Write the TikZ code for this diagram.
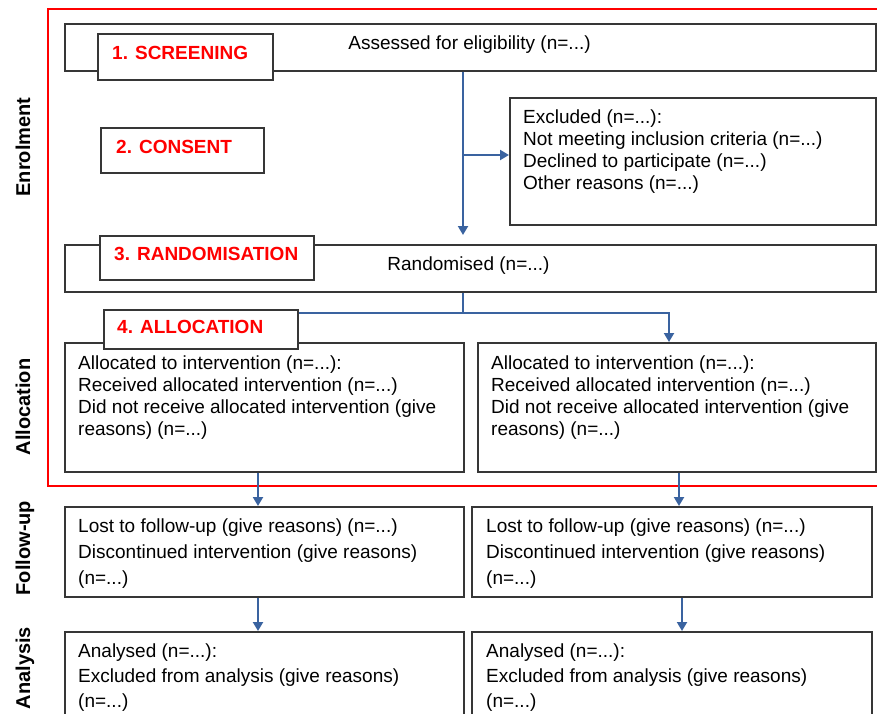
\documentclass[tikz,border=0pt]{standalone}
\usepackage{fontspec}
\setmainfont{Liberation Sans}
\usetikzlibrary{arrows.meta,calc}
\definecolor{boxgray}{HTML}{363636}
\definecolor{flowblue}{HTML}{3A63A0}
\definecolor{redline}{HTML}{FF0000}
\tikzset{
  box/.style={draw=boxgray, line width=1.6pt, fill=white, rectangle, inner sep=0pt, anchor=north west},
  txt/.style={inner sep=0pt, anchor=base west, align=left, text=black, font=\fontsize{19}{22}\selectfont},
  ctxt/.style={inner sep=0pt, anchor=base, text=black, font=\fontsize{19}{22}\selectfont},
  redlabel/.style={inner sep=0pt, anchor=base west, text=redline, font=\fontsize{19}{22}\selectfont\bfseries},
  sidelabel/.style={inner sep=0pt, anchor=base, rotate=90, text=black, font=\fontsize{20}{24}\selectfont\bfseries},
  flow/.style={draw=flowblue, line width=2pt},
  flowarrow/.style={flow, -{Triangle[length=9pt,width=10pt]}},
}
\begin{document}
\begin{tikzpicture}[x=1pt,y=-1pt]
\useasboundingbox (0,0) rectangle (877,713);
\clip (0,0) rectangle (877,713);
\fill[white] (0,0) rectangle (877,713);

% red frame
\draw[redline, line width=2pt] (48,9) rectangle (900,486);

% side labels
\node[sidelabel] (lenrol) at (30,147) {Enrolment};
\node[sidelabel] (lalloc) at (30,407) {Allocation};
\node[sidelabel] (lfollow) at (30,548) {Follow-up};
\node[sidelabel] (lanal) at (30,668) {Analysis};

% main boxes
\node[box, minimum width=811pt, minimum height=47pt] (assess) at (64,23) {};
\node[box, minimum width=366pt, minimum height=127pt] (excl) at (509,97) {};
\node[box, minimum width=811pt, minimum height=47pt] (rand) at (64,244) {};
\node[box, minimum width=399pt, minimum height=129pt] (allocL) at (64,342) {};
\node[box, minimum width=398pt, minimum height=129pt] (allocR) at (477,342) {};
\node[box, minimum width=399pt, minimum height=90pt] (fuL) at (64,506) {};
\node[box, minimum width=400pt, minimum height=90pt] (fuR) at (471,506) {};
\node[box, minimum width=399pt, minimum height=110pt] (anL) at (64,631) {};
\node[box, minimum width=400pt, minimum height=110pt] (anR) at (471,631) {};

% stage label boxes
\node[box, minimum width=175pt, minimum height=46pt] (screen) at (97,33) {};
\node[box, minimum width=163pt, minimum height=45pt] (consent) at (100,127) {};
\node[box, minimum width=214pt, minimum height=44pt] (randlab) at (99,235) {};
\node[box, minimum width=194pt, minimum height=39pt] (alloclab) at (103,309) {};

% texts (multi-line nodes anchored at the baseline of their last line)
\node[ctxt] (tassess) at (469.5,49) {Assessed for eligibility (n=...)};
\node[redlabel] (tscreen) at (112,59) {1. SCREENING};
\node[redlabel] (tconsent) at (116,153) {2. CONSENT};
\node[txt] (texcl) at (523,189) {Excluded (n=...):\\Not meeting inclusion criteria (n=...)\\Declined to participate (n=...)\\Other reasons (n=...)};
\node[ctxt] (trand) at (468.5,270) {Randomised (n=...)};
\node[redlabel] (trandlab) at (114,260) {3. RANDOMISATION};
\node[redlabel] (talloclab) at (117,333) {4. ALLOCATION};
\node[txt] (tallocL) at (78,435) {Allocated to intervention (n=...):\\Received allocated intervention (n=...)\\Did not receive allocated intervention (give\\reasons) (n=...)};
\node[txt] (tallocR) at (491,435) {Allocated to intervention (n=...):\\Received allocated intervention (n=...)\\Did not receive allocated intervention (give\\reasons) (n=...)};
\node[txt, font=\fontsize{19}{26}\selectfont] (tfuL) at (78,584) {Lost to follow-up (give reasons) (n=...)\\Discontinued intervention (give reasons)\\(n=...)};
\node[txt, font=\fontsize{19}{26}\selectfont] (tfuR) at (486,584) {Lost to follow-up (give reasons) (n=...)\\Discontinued intervention (give reasons)\\(n=...)};
\node[txt, font=\fontsize{19}{25}\selectfont] (tanL) at (78,707) {Analysed (n=...):\\Excluded from analysis (give reasons)\\(n=...)};
\node[txt, font=\fontsize{19}{25}\selectfont] (tanR) at (486,707) {Analysed (n=...):\\Excluded from analysis (give reasons)\\(n=...)};

% connectors
\coordinate (a1) at (assess.south -| 463,0);
\coordinate (a2) at (463,235);
\coordinate (b1) at (463,155);
\draw[flowarrow] (a1) -- (a2);
\draw[flowarrow] (b1) -- (b1 -| excl.west);

\coordinate (r1) at (rand.south -| 463,0);
\coordinate (r2) at (463,313);
\coordinate (r3) at (669,313);
\draw[flow] (r1) -- (r2);
\draw[flowarrow] (r2 -| alloclab.east) -- (r3) -- (r3 |- allocR.north);

\draw[flowarrow] (allocL.south -| 258,0) -- (fuL.north -| 258,0);
\draw[flowarrow] (allocR.south -| 679,0) -- (fuR.north -| 679,0);
\draw[flowarrow] (fuL.south -| 258,0) -- (anL.north -| 258,0);
\draw[flowarrow] (fuR.south -| 682,0) -- (anR.north -| 682,0);
\end{tikzpicture}
\end{document}
